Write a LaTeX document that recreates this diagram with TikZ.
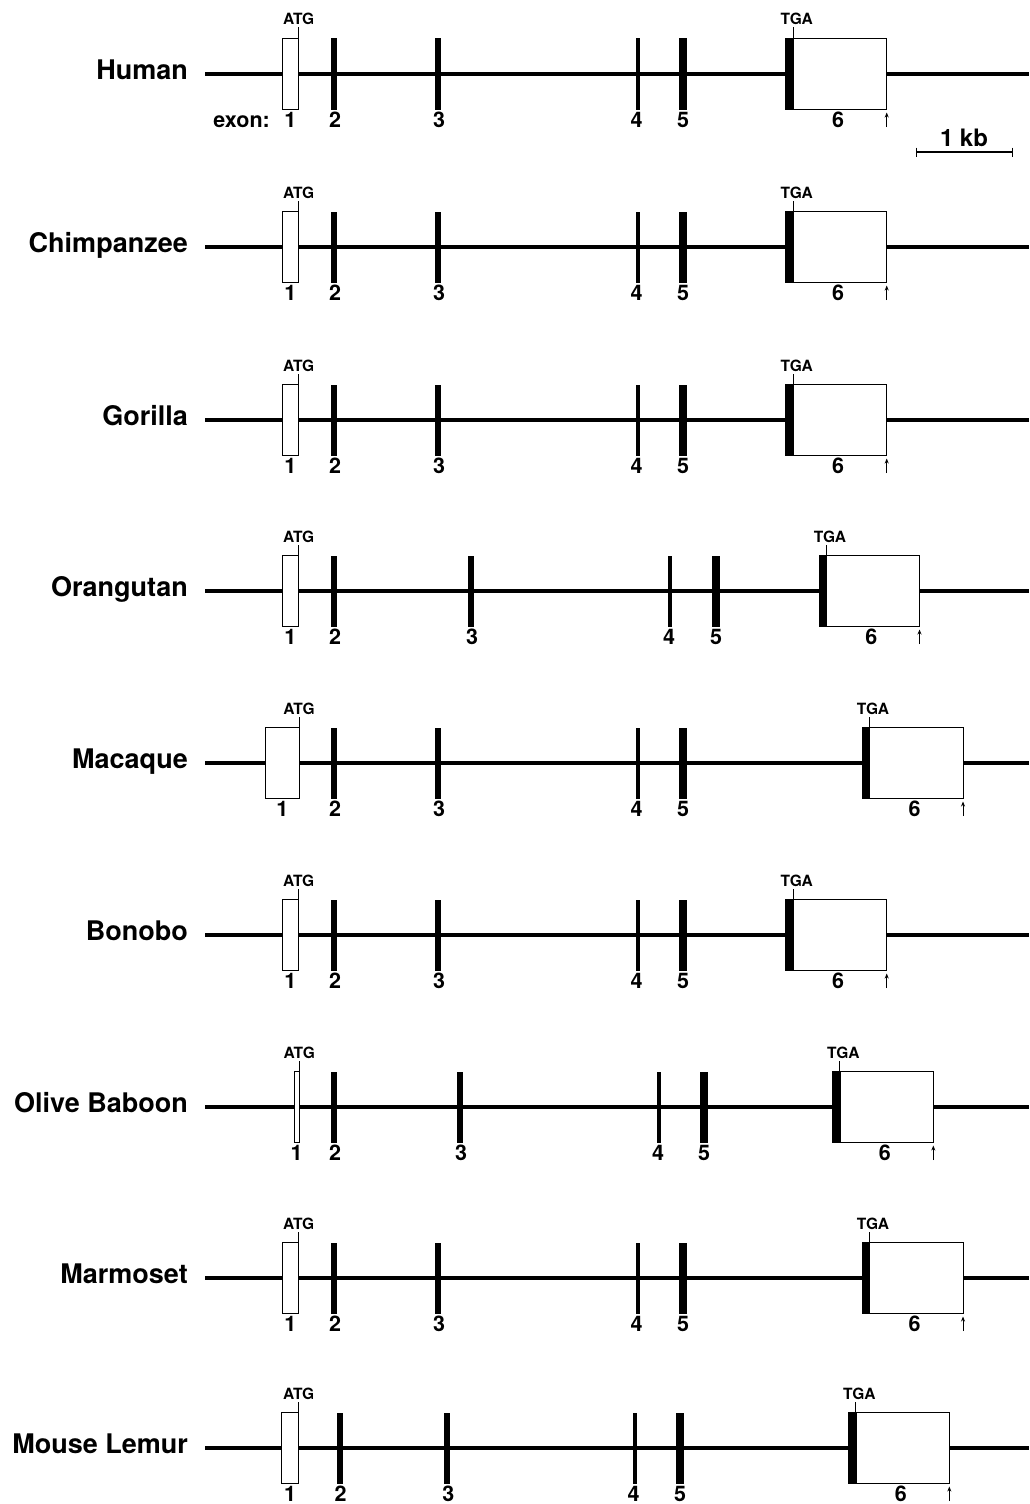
\documentclass[tikz,border=0pt]{standalone}
\usepackage{fontspec}
\setmainfont{TeX Gyre Heros}
\usetikzlibrary{arrows.meta,calc}
\begin{document}
\begin{tikzpicture}[x=1pt,y=-1pt,
  intron/.style={line width=3.3pt},
  utr/.style={draw,line width=1pt,fill=white,inner sep=0pt,outer sep=0pt,minimum height=71pt},
  cds/.style={fill=black,inner sep=0pt,outer sep=0pt,minimum height=71pt},
  codontick/.style={line width=1pt},
  polya/.style={line width=1pt,-{Stealth[length=5pt,width=4pt]}},
  species/.style={font=\fontsize{27}{27}\selectfont\bfseries,anchor=base east,inner sep=0pt},
  num/.style={font=\fontsize{21.5}{21.5}\selectfont\bfseries,anchor=base,inner sep=0pt},
  codon/.style={font=\fontsize{15.5}{15.5}\selectfont\bfseries,anchor=base,inner sep=0pt},
  scalebar/.style={line width=2pt}]
\useasboundingbox (0,0) rectangle (1029,1504);

% one gene model per species:
% id / name / y of the intron line / exon 1 left, right / exons 2-5 / exon 6 left, right
\foreach \id/\lab/\y/\xa/\xb/\xc/\xd/\xe/\xf/\xg/\xh in {
  hum/Human/74/282/298.7/334/438/637.7/683/785.7/886.7,
  chi/Chimpanzee/247/282/298.7/334/438/637.7/683/785.7/886.7,
  gor/Gorilla/420/282/298.7/334/438/637.7/683/785.7/886.7,
  ora/Orangutan/591/282/298.7/334/471/670/716/819/919.5,
  mac/Macaque/763/265.7/299/334/438/637.7/683/862/963,
  bon/Bonobo/935/282/298.7/334/438/637.7/683/785.7/886.7,
  bab/Olive Baboon/1107/294/299.3/334/460/659/704/832.3/933.3,
  mar/Marmoset/1278/282/298.7/334/438/637.7/683/862/963,
  lem/Mouse Lemur/1448/281.7/298.7/339.7/447.3/634.7/680/848.3/949.3}{
  \pgfmathsetmacro\wa{\xb-\xa}
  \pgfmathsetmacro\wf{\xh-\xg}
  % intron backbone
  \coordinate (\id-l) at (205,\y);
  \coordinate (\id-r) at (1029,\y);
  \draw[intron] (\id-l) -- (\id-r);
  \node[species] (\id-name) at (188,\y+5.5) {\lab};
  % exons
  \node[utr,minimum width=\wa pt] (\id-e1) at ({(\xa+\xb)/2},\y) {};
  \node[cds,minimum width=5.7pt] (\id-e2) at (\xc,\y) {};
  \node[cds,minimum width=5.7pt] (\id-e3) at (\xd,\y) {};
  \node[cds,minimum width=4.3pt] (\id-e4) at (\xe,\y) {};
  \node[cds,minimum width=8.3pt] (\id-e5) at (\xf,\y) {};
  \node[utr,minimum width=\wf pt] (\id-e6) at ({(\xg+\xh)/2},\y) {};
  \node[cds,minimum width=8.3pt,anchor=west] (\id-e6c) at (\xg,\y) {};
  % start and stop codons
  \coordinate (\id-atgfoot) at (\xb,\y-35.5);
  \coordinate (\id-atgtop) at (\xb,\y-46.5);
  \draw[codontick] (\id-atgfoot) -- (\id-atgtop);
  \node[codon] (\id-atg) at (\xb,\y-49) {ATG};
  \coordinate (\id-tgafoot) at (\xg+7.5,\y-35.5);
  \coordinate (\id-tgatop) at (\xg+7.5,\y-46.5);
  \draw[codontick] (\id-tgafoot) -- (\id-tgatop);
  \node[codon] (\id-tga) at (\xg+11,\y-49) {TGA};
  % polyadenylation site
  \coordinate (\id-pa) at (\xh,\y+53);
  \coordinate (\id-pb) at (\xh,\y+38.5);
  \draw[polya] (\id-pa) -- (\id-pb);
  % exon numbers
  \node[num] (\id-n1) at ({(\xa+\xb)/2},\y+53.5) {1};
  \node[num] (\id-n2) at (\xc+1,\y+53.5) {2};
  \node[num] (\id-n3) at (\xd+1,\y+53.5) {3};
  \node[num] (\id-n4) at (\xe-1,\y+53.5) {4};
  \node[num] (\id-n5) at (\xf,\y+53.5) {5};
  \node[num] (\id-n6) at ({(\xg+\xh)/2+2},\y+53.5) {6};
}

\node[num,anchor=base east] (exonword) at (270,127.5) {exon:};

% scale bar
\coordinate (sb-l) at (916.5,152);
\coordinate (sb-r) at (1012.5,152);
\draw[scalebar] (sb-l) -- (sb-r);
\draw[line width=1.5pt] ($(sb-l)+(0,-4.5)$) -- ($(sb-l)+(0,4.5)$);
\draw[line width=1.5pt] ($(sb-r)+(0,-4.5)$) -- ($(sb-r)+(0,4.5)$);
\node[font=\fontsize{24}{24}\selectfont\bfseries,anchor=base,inner sep=0pt] (sb-lab) at (964,146) {1 kb};
\end{tikzpicture}
\end{document}
